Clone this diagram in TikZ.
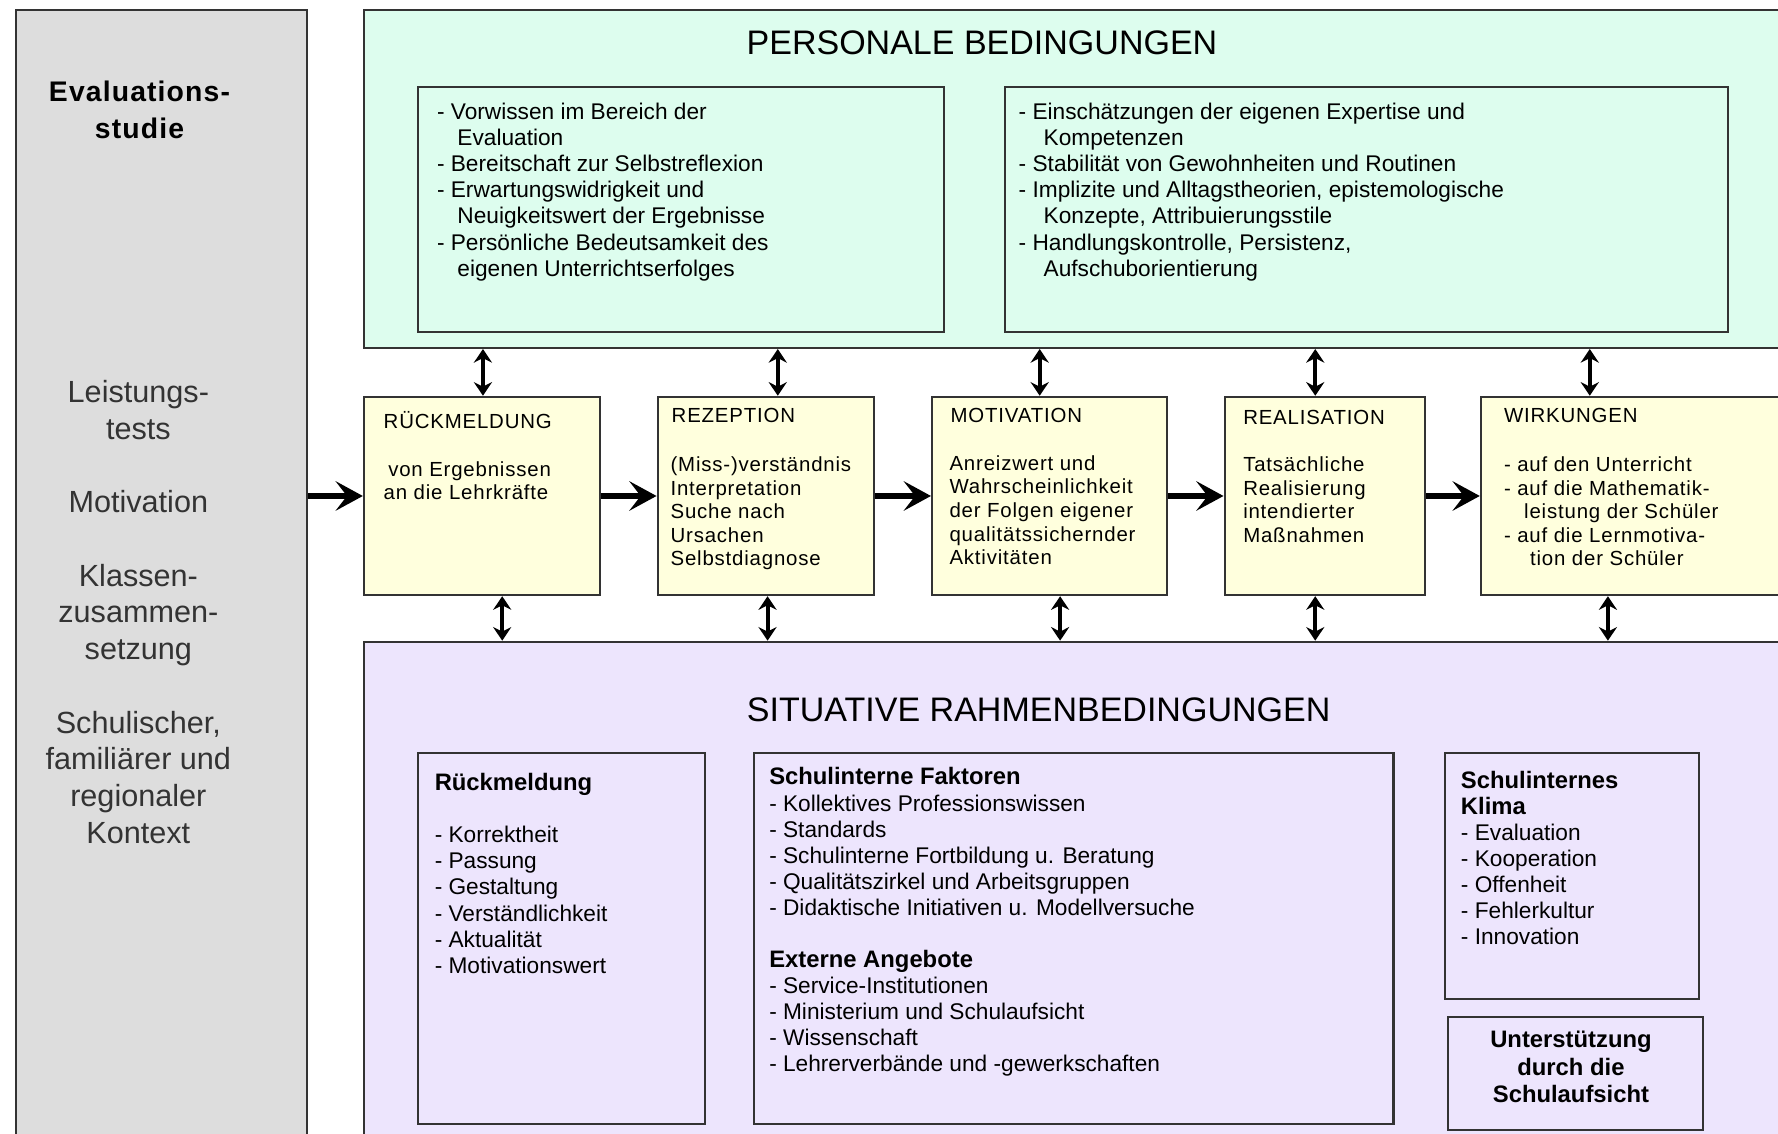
\documentclass[tikz,border=0pt]{standalone}
\usepackage{fontspec}
\setmainfont{Liberation Sans}
\newfontfamily\boxfont[LetterSpace=4]{Liberation Sans}
\usetikzlibrary{calc,arrows.meta,positioning}
\definecolor{evalgray}{RGB}{221,221,221}
\definecolor{persgreen}{RGB}{221,253,238}
\definecolor{procyellow}{RGB}{255,255,221}
\definecolor{situlilac}{RGB}{237,229,253}
\tikzset{
  >={Stealth[length=6pt,width=8pt,inset=2pt]},
  panel/.style={draw=black!80, line width=0.9pt, anchor=north west, inner sep=0pt},
  procbox/.style={panel, fill=procyellow, minimum height=87.5pt},
  txt/.style={anchor=north west, inner sep=0pt, align=left, font=\fontsize{10}{11.5}\selectfont},
  boxtxt/.style={anchor=north west, inner sep=0pt, align=left, font=\boxfont\fontsize{9}{10.4}\selectfont},
  boxhead/.style={anchor=base west, inner sep=0pt, font=\boxfont\fontsize{9}{10.4}\selectfont},
  title/.style={inner sep=0pt, font=\fontsize{15}{18}\selectfont},
  flow/.style={line width=2.8pt, -{Stealth[length=12pt,width=13pt,inset=5pt]}},
  link/.style={line width=1.8pt, <->}
}
\newcommand{\ind}{\hspace*{0.9em}}

\begin{document}
\begin{tikzpicture}[x=0.5pt,y=-0.5pt]
    \clip (0,0) rectangle (1568,1000);
    % Left column
    \node[panel, fill=evalgray, minimum width=128.5pt, minimum height=510pt] (eval) at (13,8) {};
    \node[anchor=north, inner sep=0pt, align=center, font=\boxfont\fontsize{12.5}{16.5}\selectfont\bfseries]
          (evalhead) at (123,70.7) {Evaluations-\\studie};
    \node[anchor=north, inner sep=0pt, align=center, text=black!80, font=\fontsize{13.5}{16.2}\selectfont]
          (evaltext) at (122,335) {Leistungs-\\tests\\[16.2pt]Motivation\\[16.2pt]Klassen-\\zusammen-\\setzung\\[16.2pt]%
          Schulischer,\\familiärer und\\regionaler\\Kontext};

    % Personale Bedingungen
    \node[panel, fill=persgreen, minimum width=645pt, minimum height=149pt] (personal) at (320,8) {};
    \node[title] (perstitle) at (866,38) {PERSONALE BEDINGUNGEN};
    \node[panel, minimum width=232pt, minimum height=108pt] (persA) at (368,76) {};
    \node[panel, minimum width=319pt, minimum height=108pt] (persB) at (885,76) {};
    \node[txt] (persAtext) at (385,90.6) {- Vorwissen im Bereich der\\\ind Evaluation\\- Bereitschaft zur Selbstreflexion\\%
          - Erwartungswidrigkeit und\\\ind Neuigkeitswert der Ergebnisse\\- Persönliche Bedeutsamkeit des\\\ind eigenen Unterrichtserfolges};
    \node[txt] (persBtext) at (898,90.6) {- Einschätzungen der eigenen Expertise und\\\hspace*{1.1em}Kompetenzen\\%
          - Stabilität von Gewohnheiten und Routinen\\- Implizite und Alltagstheorien, epistemologische\\%
          \hspace*{1.1em}Konzepte, Attribuierungsstile\\- Handlungskontrolle, Persistenz,\\\hspace*{1.1em}Aufschuborientierung};

    % Process row
    \node[procbox, minimum width=104pt] (rueck) at (320,349) {};
    \node[procbox, minimum width=95.5pt, right=24.6pt of rueck] (rezep) {};
    \node[procbox, minimum width=103.5pt, right=24.6pt of rezep] (motiv) {};
    \node[procbox, minimum width=88.5pt, right=24.6pt of motiv] (real) {};
    \node[procbox, minimum width=150pt, right=23.6pt of real] (wirk) {};

    \node[boxhead] (rueckhead) at (338,377.5) {RÜCKMELDUNG};
    \node[boxtxt] (ruecktext) at (338,406.4) {\hspace*{2pt}von Ergebnissen\\an die Lehrkräfte};
    \node[boxhead] (rezephead) at (592,372.5) {REZEPTION};
    \node[boxtxt] (rezeptext) at (591,402.4) {(Miss-)verständnis\\Interpretation\\Suche nach\\Ursachen\\Selbstdiagnose};
    \node[boxhead] (motivhead) at (838,372.5) {MOTIVATION};
    \node[boxtxt] (motivtext) at (837,401.4) {Anreizwert und\\Wahrscheinlichkeit\\der Folgen eigener\\qualitätssichernder\\Aktivitäten};
    \node[boxhead] (realhead) at (1096,374.5) {REALISATION};
    \node[boxtxt] (realtext) at (1096,402.4) {Tatsächliche\\Realisierung\\intendierter\\Maßnahmen};
    \node[boxhead] (wirkhead) at (1326,372.5) {WIRKUNGEN};
    \node[boxtxt] (wirktext) at (1326,402.4) {- auf den Unterricht\\- auf die Mathematik-\\\hspace*{8.9pt}leistung der Schüler\\%
          - auf die Lernmotiva-\\\hspace*{11.5pt}tion der Schüler};

    % Situative Rahmenbedingungen
    \node[panel, fill=situlilac, minimum width=645pt, minimum height=230pt] (situativ) at (320,565) {};
    \node[title] (situtitle) at (916,626) {SITUATIVE RAHMENBEDINGUNGEN};
    \node[panel, minimum width=126.5pt, minimum height=163.5pt] (sitA) at (368,663) {};
    \node[panel, minimum width=282pt, minimum height=163.5pt] (sitB) at (664,663) {};
    \node[panel, minimum width=112pt, minimum height=108.5pt] (sitC) at (1273,663) {};
    \node[panel, minimum width=112.5pt, minimum height=50pt] (sitD) at (1276,896) {};
    \node[txt] (sitAtext) at (383,681.6) {{\fontsize{10.5}{11.5}\selectfont\bfseries Rückmeldung}\\[11.5pt]- Korrektheit\\- Passung\\%
          - Gestaltung\\- Verständlichkeit\\- Aktualität\\- Motivationswert};
    \node[txt] (sitBtext) at (678,676.6) {{\fontsize{10.5}{11.5}\selectfont\bfseries Schulinterne Faktoren}\\%
          - Kollektives Professionswissen\\- Standards\\- Schulinterne Fortbildung u. Beratung\\%
          - Qualitätszirkel und Arbeitsgruppen\\- Didaktische Initiativen u. Modellversuche\\[11.5pt]%
          {\fontsize{10.5}{11.5}\selectfont\bfseries Externe Angebote}\\- Service-Institutionen\\%
          - Ministerium und Schulaufsicht\\- Wissenschaft\\- Lehrerverbände und -gewerkschaften};
    \node[txt] (sitCtext) at (1288,679.6) {{\fontsize{10.5}{11.5}\selectfont\bfseries Schulinternes}\\%
          {\fontsize{10.5}{11.5}\selectfont\bfseries Klima}\\- Evaluation\\- Kooperation\\- Offenheit\\- Fehlerkultur\\- Innovation};
    \node[inner sep=0pt, align=center, font=\fontsize{10.5}{12}\selectfont\bfseries]
          (sitDtext) at ($(sitD.center)+(-4,-6)$) {Unterstützung\\durch die\\Schulaufsicht};

    % Flow arrows
    \draw[flow] (rueck.west -| eval.east) -- (rueck.west);
    \draw[flow] (rueck.east) -- (rezep.west);
    \draw[flow] (rezep.east) -- (motiv.west);
    \draw[flow] (motiv.east) -- (real.west);
    \draw[flow] (real.east) -- (wirk.west);

    % Links to the conditions
    \draw[link] ($(personal.south -| rueck.north)+(1,0)$) -- ($(rueck.north)+(1,0)$);
    \draw[link] ($(personal.south -| rezep.north)+(10.5,0)$) -- ($(rezep.north)+(10.5,0)$);
    \draw[link] ($(personal.south -| motiv.north)+(-8.5,0)$) -- ($(motiv.north)+(-8.5,0)$);
    \draw[link] ($(personal.south -| real.north)+(-8.5,0)$) -- ($(real.north)+(-8.5,0)$);
    \draw[link] ($(personal.south -| wirk.north west)+(97,0)$) -- ($(wirk.north west)+(97,0)$);
    \draw[link] ($(rueck.south)+(18,0)$) -- ($(situativ.north -| rueck.south)+(18,0)$);
    \draw[link] ($(rezep.south)+(1.5,0)$) -- ($(situativ.north -| rezep.south)+(1.5,0)$);
    \draw[link] ($(motiv.south)+(9.5,0)$) -- ($(situativ.north -| motiv.south)+(9.5,0)$);
    \draw[link] ($(real.south)+(-8.5,0)$) -- ($(situativ.north -| real.south)+(-8.5,0)$);
    \draw[link] ($(wirk.south west)+(113,0)$) -- ($(situativ.north -| wirk.south west)+(113,0)$);
\end{tikzpicture}
\end{document}
